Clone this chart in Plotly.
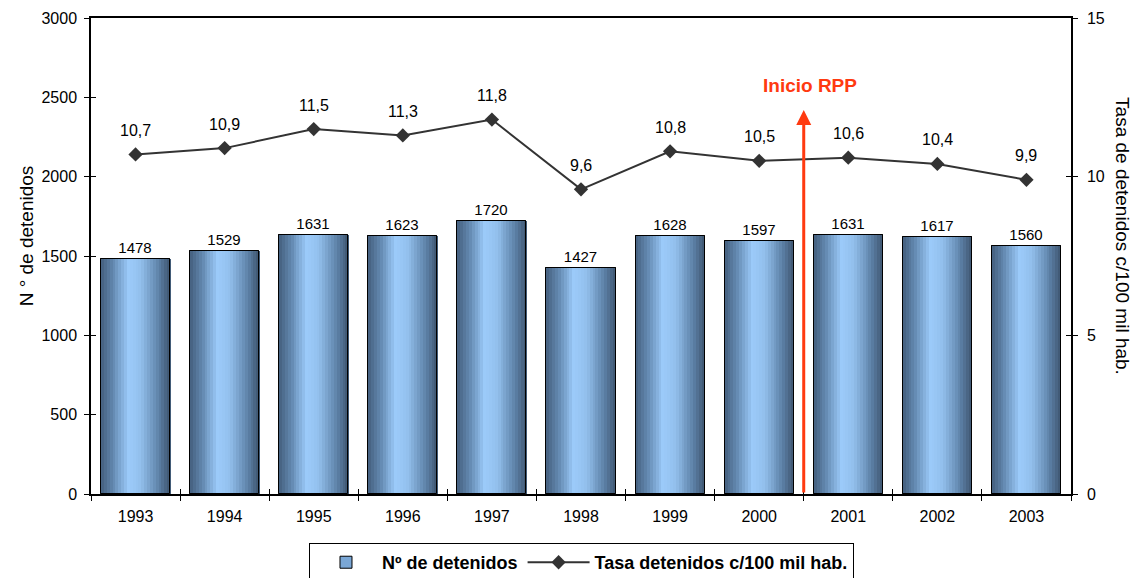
import plotly.graph_objects as go

years = ["1993", "1994", "1995", "1996", "1997", "1998", "1999", "2000", "2001", "2002", "2003"]
detenidos = [1478, 1529, 1631, 1623, 1720, 1427, 1628, 1597, 1631, 1617, 1560]
tasa = [10.7, 10.9, 11.5, 11.3, 11.8, 9.6, 10.8, 10.5, 10.6, 10.4, 9.9]
tasa_labels = [f"{v:.1f}".replace(".", ",") for v in tasa]

FONT = "Arial, Liberation Sans, sans-serif"
BAR_W = 0.775
N_STRIPES = 24

stops = [(0.0, (0x44, 0x5f, 0x7e)), (0.18, (0x64, 0x8a, 0xb2)), (0.4, (0x9c, 0xcb, 0xfa)),
         (0.58, (0x92, 0xbf, 0xec)), (0.84, (0x5c, 0x80, 0xa6)), (1.0, (0x3e, 0x55, 0x70))]


def grad(t):
    for (t0, c0), (t1, c1) in zip(stops[:-1], stops[1:]):
        if t0 <= t <= t1:
            f = (t - t0) / (t1 - t0)
            return "rgb(%d,%d,%d)" % tuple(round(a + (b - a) * f) for a, b in zip(c0, c1))
    return "rgb(%d,%d,%d)" % stops[-1][1]


fig = go.Figure()

fig.add_trace(go.Bar(
    x=years, y=detenidos, width=BAR_W, name="Nº de detenidos",
    marker=dict(color="#7aa7d6", line=dict(color="black", width=1)),
    text=[str(v) for v in detenidos], textposition="outside", constraintext="none",
    textfont=dict(family=FONT, size=15, color="black"), cliponaxis=False,
))
sw = BAR_W / N_STRIPES
for i in range(N_STRIPES):
    fig.add_trace(go.Bar(
        x=years, y=detenidos, width=sw * 1.15, offset=-BAR_W / 2 + i * sw,
        marker=dict(color=grad((i + 0.5) / N_STRIPES), line=dict(width=0)),
        showlegend=False, hoverinfo="skip",
    ))
fig.add_trace(go.Bar(
    x=years, y=detenidos, width=BAR_W,
    marker=dict(color="rgba(0,0,0,0)", line=dict(color="black", width=1)),
    showlegend=False, hoverinfo="skip",
))

fig.add_trace(go.Scatter(
    x=years, y=tasa, yaxis="y2", mode="lines+markers",
    name="Tasa detenidos c/100 mil hab.",
    line=dict(color="#333333", width=2),
    marker=dict(symbol="diamond", size=11, color="#333333"),
))

for i, (yv, lab) in enumerate(zip(tasa, tasa_labels)):
    fig.add_annotation(x=i, y=yv, xref="x", yref="y2", text=lab, showarrow=False, yshift=24,
                       font=dict(family=FONT, size=16, color="black"))

rpp_pos = years.index("2000") + 0.5
fig.add_annotation(x=rpp_pos, y=2420, ax=rpp_pos, ay=0, xref="x", yref="y", axref="x", ayref="y",
                   showarrow=True, arrowhead=2, arrowsize=1, arrowwidth=3, arrowcolor="#ff3a10", text="")
fig.add_annotation(x=rpp_pos, y=2575, xref="x", yref="y", text="<b>Inicio RPP</b>", showarrow=False,
                   xshift=6, font=dict(family=FONT, size=19, color="#ff3a10"))

fig.add_annotation(x=-0.066, y=0.542, xref="paper", yref="paper", text="N ° de detenidos", textangle=-90,
                   showarrow=False, xanchor="center", yanchor="middle",
                   font=dict(family=FONT, size=19, color="black"))
fig.add_annotation(x=1.053, y=0.542, xref="paper", yref="paper", text="Tasa de detenidos c/100 mil hab.",
                   textangle=90, showarrow=False, xanchor="center", yanchor="middle",
                   font=dict(family=FONT, size=19, color="black"))

tickfont = dict(family=FONT, size=16, color="black")
fig.update_layout(
    width=1140, height=578,
    margin=dict(l=91, r=69, t=18, b=84, autoexpand=False),
    paper_bgcolor="white", plot_bgcolor="white",
    barmode="overlay", bargap=0,
    font=dict(family=FONT, color="black"),
    showlegend=True,
    legend=dict(orientation="h", x=0.5005, xanchor="center", y=-0.103, yanchor="top",
                bordercolor="black", borderwidth=1, bgcolor="white",
                font=dict(family=FONT, size=18, color="black", weight="bold"),
                traceorder="normal", itemwidth=62),
    xaxis=dict(type="category", categoryorder="array", categoryarray=years, range=[-0.5, len(years) - 0.5],
               showgrid=False, showline=True, linecolor="black", linewidth=1.5, mirror=True,
               ticks="outside", tickson="boundaries", ticklen=5, tickcolor="black",
               tickfont=tickfont, zeroline=False, automargin=False, ticklabelstandoff=7),
    xaxis2=dict(overlaying="x", anchor="y", range=[-0.5, len(years) - 0.5], showgrid=False,
                tickvals=[i + 0.5 for i in range(len(years) - 1)], ticks="inside", ticklen=5,
                tickcolor="black", showticklabels=False, showline=False, zeroline=False, side="bottom"),
    yaxis=dict(range=[0, 3000], dtick=500, showgrid=False, showline=True, linecolor="black", linewidth=1.5,
               ticks="outside", ticklen=5, tickcolor="black", tickfont=tickfont, zeroline=False,
               automargin=False, ticklabelstandoff=4),
    yaxis2=dict(range=[0, 15], dtick=5, overlaying="y", side="right", showgrid=False, showline=True,
                linecolor="black", linewidth=1.5, ticks="outside", ticklen=5, tickcolor="black",
                tickfont=tickfont, zeroline=False, automargin=False, ticklabelstandoff=6),
    yaxis3=dict(range=[0, 3000], dtick=500, overlaying="y", side="left", anchor="x", showgrid=False,
                ticks="inside", ticklen=5, tickcolor="black", showticklabels=False, showline=False, zeroline=False),
    yaxis4=dict(range=[0, 15], dtick=5, overlaying="y", side="right", anchor="x", showgrid=False,
                ticks="inside", ticklen=5, tickcolor="black", showticklabels=False, showline=False, zeroline=False),
)

fig.add_trace(go.Scatter(x=[0], y=[0], xaxis="x2", yaxis="y3", mode="markers", marker=dict(opacity=0),
                         showlegend=False, hoverinfo="skip"))
fig.add_trace(go.Scatter(x=[0], y=[0], xaxis="x2", yaxis="y4", mode="markers", marker=dict(opacity=0),
                         showlegend=False, hoverinfo="skip"))

fig.write_html("out.html", config={"displayModeBar": False},
               post_script="document.body.style.margin='0';document.body.style.overflow='hidden';")
